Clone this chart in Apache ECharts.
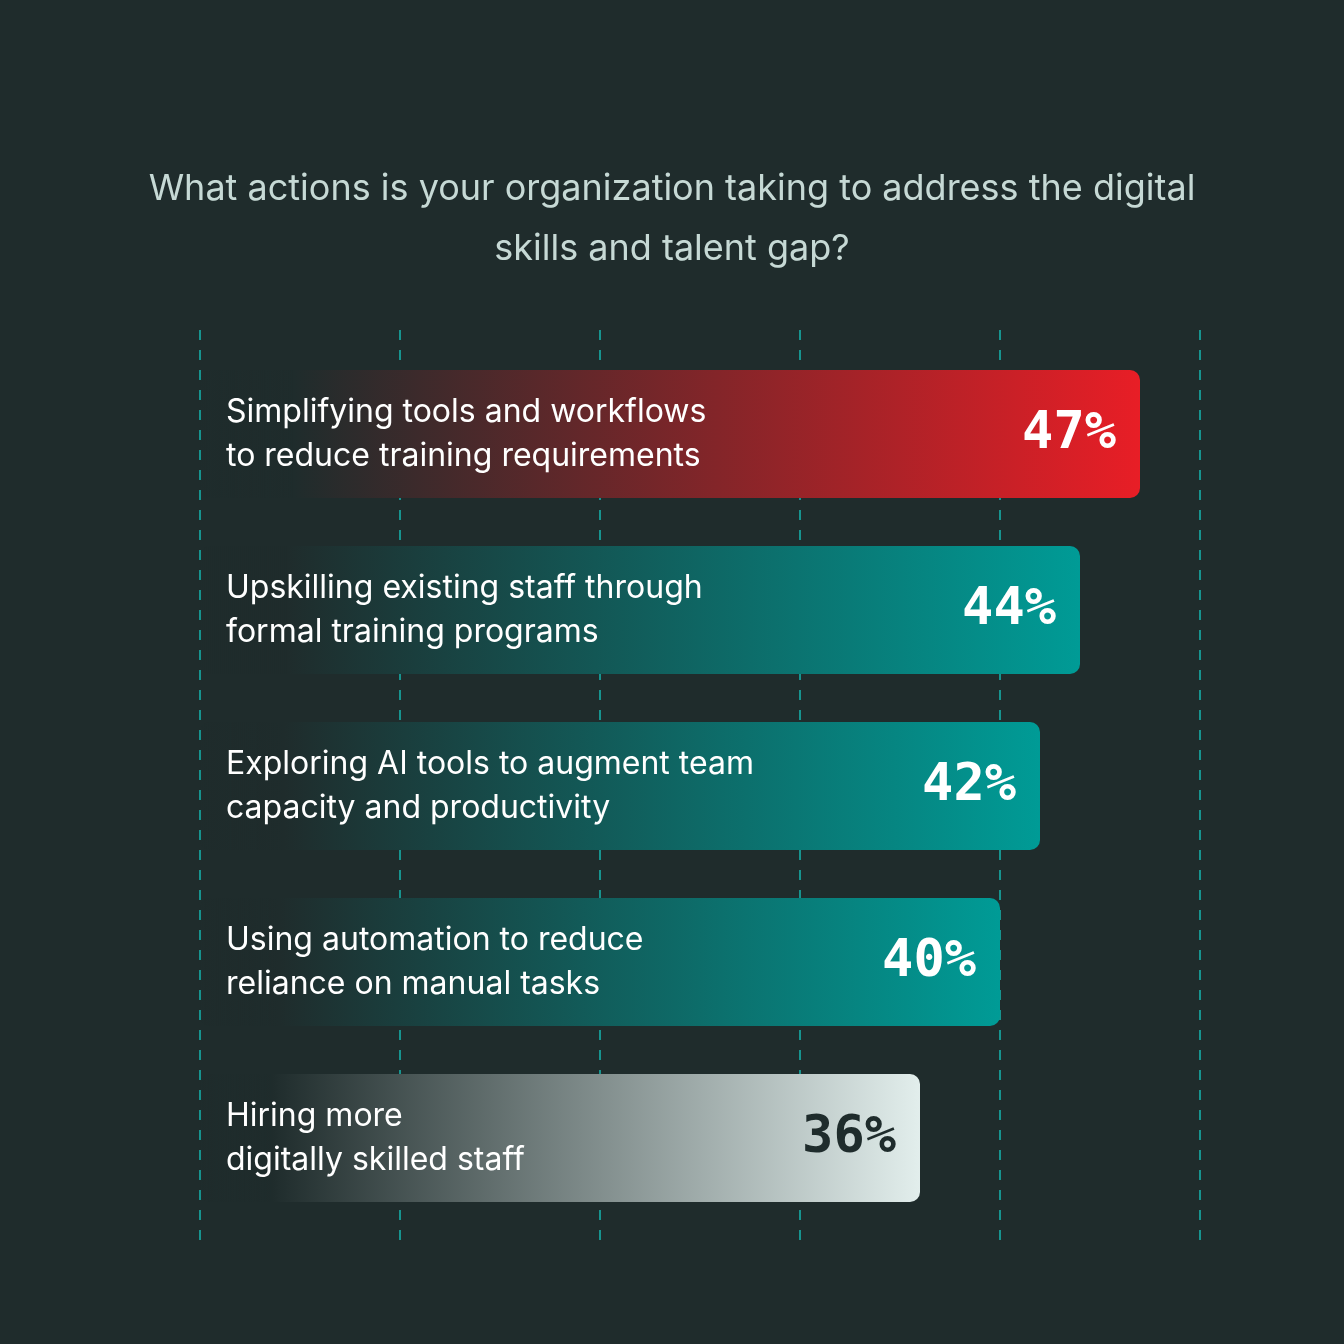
<!DOCTYPE html>
<html>
<head>
<meta charset="utf-8">
<script src="https://cdn.jsdelivr.net/npm/echarts@6/dist/echarts.min.js"></script>
<style>
  html, body { margin: 0; padding: 0; background: #1f2c2c; }
  #chart { width: 1344px; height: 1344px; }
</style>
</head>
<body>
<div id="chart"></div>
<script>
// chart data
var categories = [
    'Simplifying tools and workflows\nto reduce training requirements',
    'Upskilling existing staff through\nformal training programs',
    'Exploring AI tools to augment team\ncapacity and productivity',
    'Using automation to reduce\nreliance on manual tasks',
    'Hiring more\ndigitally skilled staff'
];
var values = [47, 44, 42, 40, 36];
var endColors = ['#e81e26', '#009b96', '#009b96', '#009b96', '#e2eeec'];
var startColors = ['rgba(31,44,44,1)', 'rgba(31,44,44,1)', 'rgba(31,44,44,1)', 'rgba(31,44,44,1)', 'rgba(31,44,44,1)'];
var valueColors = ['#ffffff', '#ffffff', '#ffffff', '#ffffff', '#1f2c2c'];

var chart = echarts.init(document.getElementById('chart'));

// each bar gets its own gradient
var barData = values.map(function (v, i) {
    return {
        value: v,
        itemStyle: {
            color: new echarts.graphic.LinearGradient(0, 0, 1, 0, [
                { offset: 0, color: 'rgba(31,44,44,0)' },
                { offset: 0.1, color: startColors[i] },
                { offset: 1, color: endColors[i] }
            ])
        },
        label: { color: valueColors[i] }
    };
});

var option = {
    backgroundColor: '#1f2c2c',
    title: {
        text: 'What actions is your organization taking to address the digital\nskills and talent gap?',
        left: 'center',
        top: 154,
        textStyle: {
            color: '#c6d9d5',
            fontFamily: 'Inter',
            fontWeight: 'normal',
            fontSize: 36,
            lineHeight: 60
        }
    },
    grid: [
        { left: 200, right: 144, top: 330, bottom: 102 },   // just for the dashed lines
        { left: 200, right: 144, top: 346, bottom: 118 }
    ],
    xAxis: [
        {
            gridIndex: 0, type: 'value', min: 0, max: 50, interval: 10,
            axisLabel: { show: false }, axisLine: { show: false }, axisTick: { show: false },
            splitLine: { lineStyle: { color: '#17938e', type: [10, 10], width: 2 } }
        },
        {
            gridIndex: 1, type: 'value', min: 0, max: 50, interval: 10, show: false
        }
    ],
    yAxis: [
        { gridIndex: 0, type: 'category', data: categories, show: false },
        { gridIndex: 1, type: 'category', data: categories, inverse: true, show: false }
    ],
    series: [
        {
            type: 'bar',
            xAxisIndex: 1,
            yAxisIndex: 1,
            zlevel: 1,
            barWidth: 128,
            itemStyle: { borderRadius: 10 },
            data: barData,
            label: {
                show: true,
                position: 'insideRight',
                distance: 24,
                fontFamily: 'DejaVu Sans Mono',
                fontWeight: 'bold',
                fontSize: 52,
                formatter: '{c}%'
            },
            z: 3
        },
        {
            // category names inside the bars, left side
            type: 'bar',
            xAxisIndex: 1,
            yAxisIndex: 1,
            zlevel: 1,
            barWidth: 128,
            barGap: '-100%',
            silent: true,
            itemStyle: { color: 'transparent' },
            data: values,
            label: {
                show: true,
                position: 'insideLeft',
                distance: 26,
                color: '#ffffff',
                fontFamily: 'Inter',
                fontSize: 32,
                lineHeight: 44,
                formatter: function (p) { return categories[p.dataIndex]; }
            },
            z: 4
        }
    ]
};

chart.setOption(option);
</script>
</body>
</html>
